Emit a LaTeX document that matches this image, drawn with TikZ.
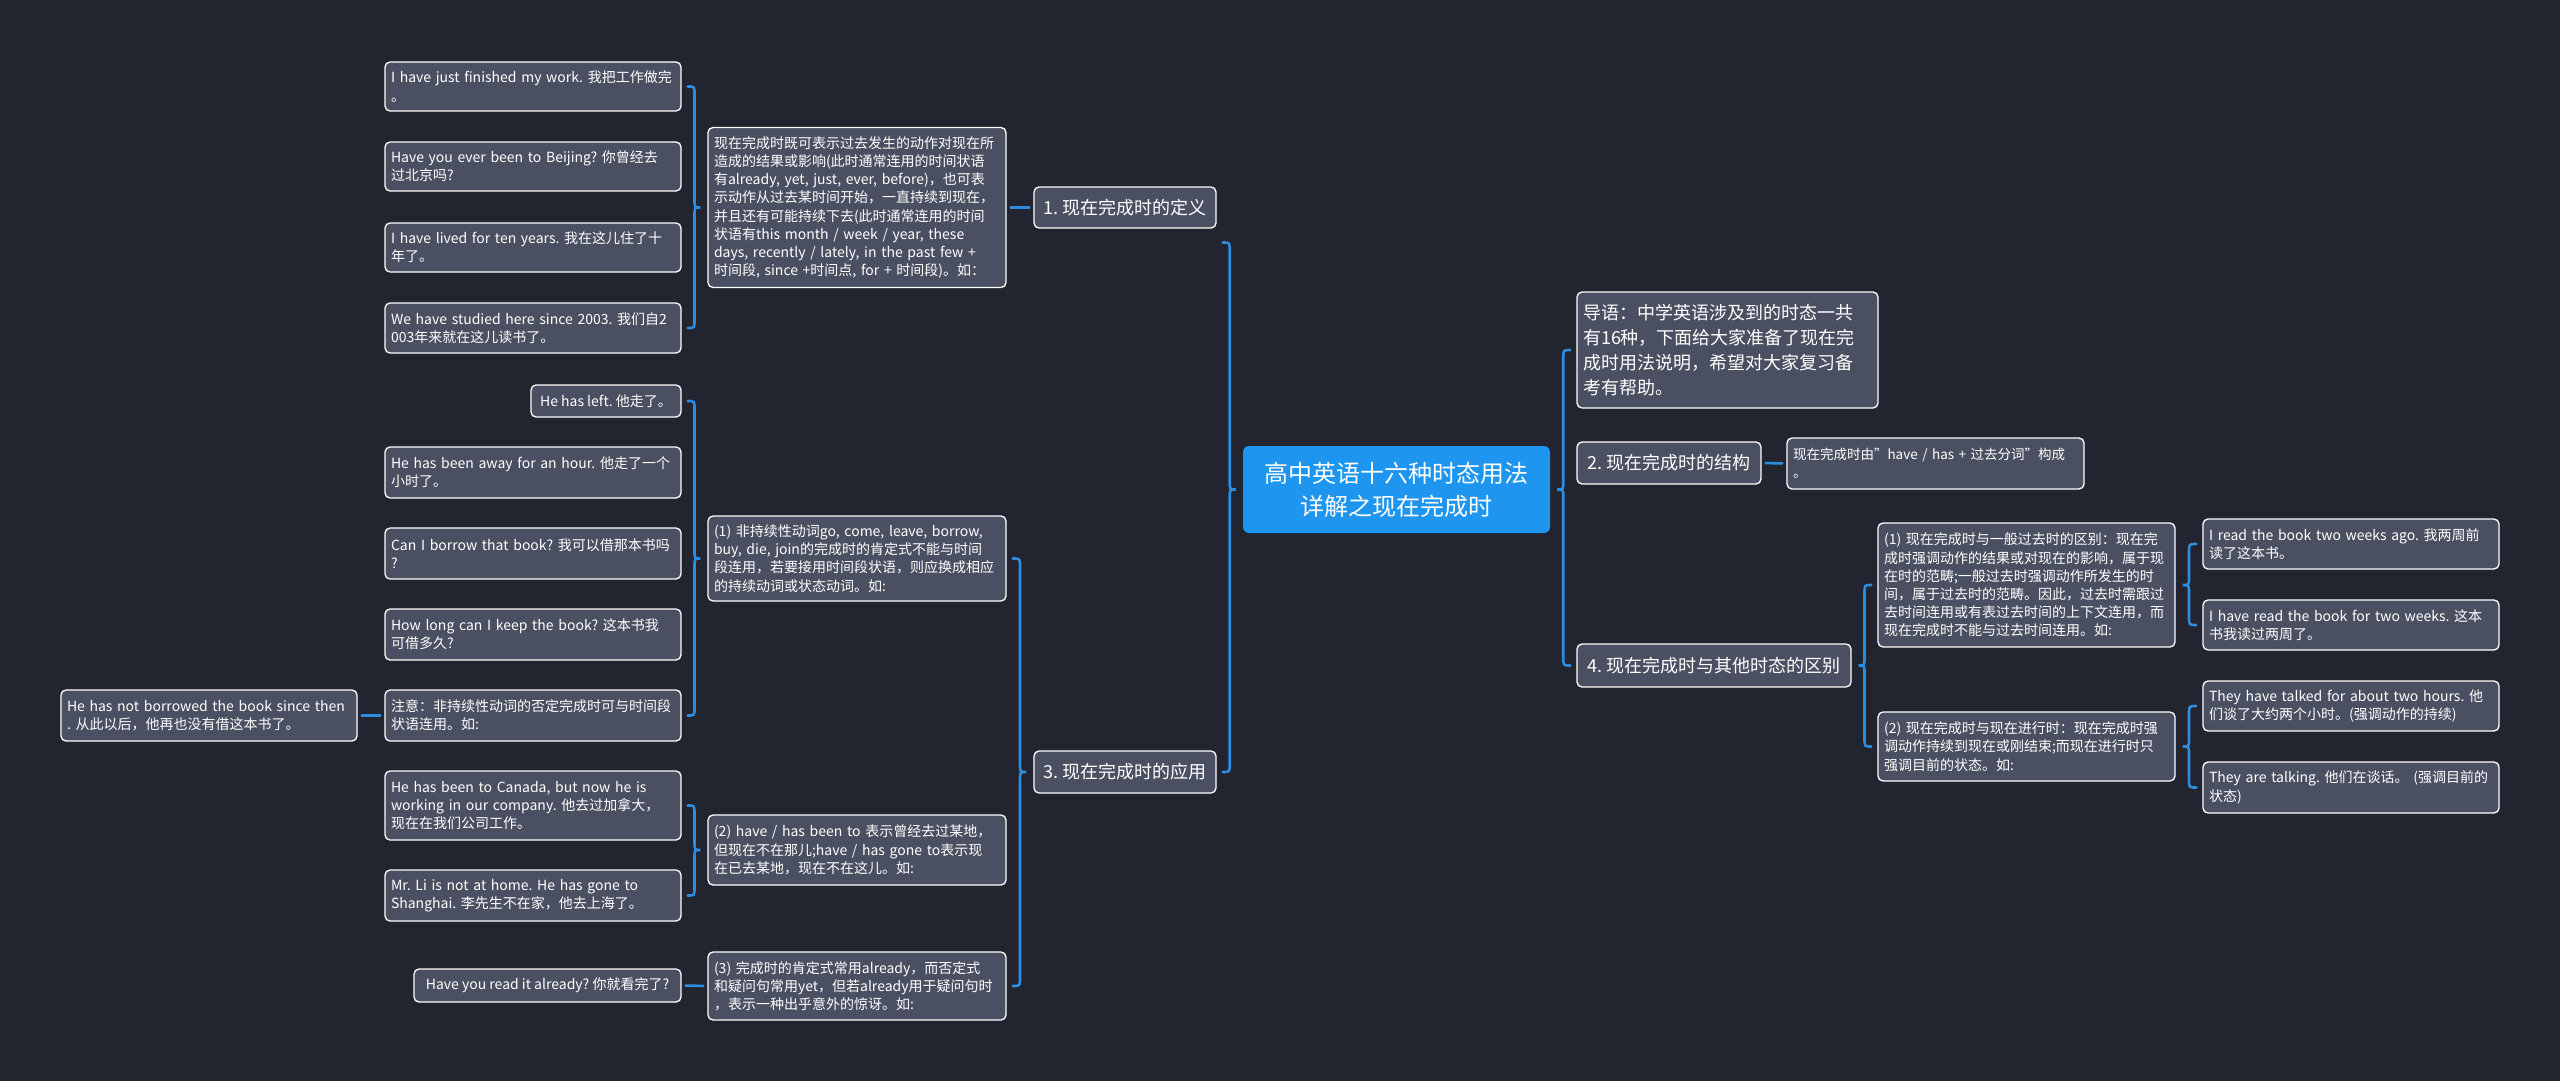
\documentclass[tikz,border=0pt]{standalone}
\usepackage{fontspec}
\setmainfont{Noto Sans CJK SC}
\usetikzlibrary{calc}
\frenchspacing
\definecolor{bg}{HTML}{22252F}
\definecolor{boxfill}{HTML}{4A5061}
\definecolor{rootfill}{HTML}{1E95EF}
\definecolor{linkblue}{HTML}{2B8CE0}
\tikzset{
  box/.style={draw=white, line width=1.3pt, fill=boxfill, rounded corners=5pt,
    text=white, inner xsep=6pt, inner ysep=4pt, align=left},
  leaf/.style={box, font=\fontsize{14}{18.2}\selectfont},
  topic/.style={box, font=\fontsize{18}{25}\selectfont},
  root/.style={fill=rootfill, rounded corners=6pt, text=white, align=center,
    minimum width=307pt, minimum height=87pt, font=\fontsize{24}{33}\selectfont},
  link/.style={draw=linkblue, line width=2.6pt, line cap=round}
}
\begin{document}
\begin{tikzpicture}[x=1pt,y=-1pt]
  \fill[bg] (0,0) rectangle (2560,1081);
  \node[root] (root) at (1396.5,489.5) {高中英语十六种时态用法\\详解之现在完成时};

  % left: 1. and 3.
  \node[topic, minimum width=182pt, minimum height=41pt] (n1) at (1125,207.5) {1. 现在完成时的定义};
  \node[topic, minimum width=182pt, minimum height=42pt] (n3) at (1125,772) {3. 现在完成时的应用};

  \node[leaf, text width=286pt, minimum height=160pt] (def) at (857,207.5) {现在完成时既可表示过去发生的动作对现在所\\造成的结果或影响(此时通常连用的时间状语\\有already, yet, just, ever, before)，也可表\\示动作从过去某时间开始，一直持续到现在，\\并且还有可能持续下去(此时通常连用的时间\\状语有this month / week / year, these\\days, recently / lately, in the past few +\\时间段, since +时间点, for + 时间段)。如：};
  \node[leaf, text width=284pt, minimum height=49pt] (ex1) at (533,86.5) {I have just finished my work. 我把工作做完\\。};
  \node[leaf, text width=284pt, minimum height=49pt] (ex2) at (533,166.5) {Have you ever been to Beijing? 你曾经去\\过北京吗?};
  \node[leaf, text width=284pt, minimum height=49pt] (ex3) at (533,247.5) {I have lived for ten years. 我在这儿住了十\\年了。};
  \node[leaf, text width=284pt, minimum height=50pt] (ex4) at (533,328) {We have studied here since 2003. 我们自2\\003年来就在这儿读书了。};

  \node[leaf, text width=286pt, minimum height=85pt] (app1) at (857,558.5) {(1) 非持续性动词go, come, leave, borrow,\\buy, die, join的完成时的肯定式不能与时间\\段连用，若要接用时间段状语，则应换成相应\\的持续动词或状态动词。如:};
  \node[leaf, text width=286pt, minimum height=70pt] (app2) at (857,850) {(2) have / has been to 表示曾经去过某地，\\但现在不在那儿;have / has gone to表示现\\在已去某地，现在不在这儿。如:};
  \node[leaf, text width=286pt, minimum height=68pt] (app3) at (857,986) {(3) 完成时的肯定式常用already，而否定式\\和疑问句常用yet，但若already用于疑问句时\\，表示一种出乎意外的惊讶。如:};

  \node[leaf, minimum width=150pt, minimum height=32pt] (a1) at (606,401) {He has left. 他走了。};
  \node[leaf, text width=284pt, minimum height=51pt] (a2) at (533,472.5) {He has been away for an hour. 他走了一个\\小时了。};
  \node[leaf, text width=284pt, minimum height=51pt] (a3) at (533,553.5) {Can I borrow that book? 我可以借那本书吗\\?};
  \node[leaf, text width=284pt, minimum height=51pt] (a4) at (533,634.5) {How long can I keep the book? 这本书我\\可借多久?};
  \node[leaf, text width=284pt, minimum height=51pt] (a5) at (533,715.5) {注意：非持续性动词的否定完成时可与时间段\\状语连用。如:};
  \node[leaf, text width=284pt, minimum height=51pt] (a5c) at (209,715.5) {He has not borrowed the book since then\\. 从此以后，他再也没有借这本书了。};

  \node[leaf, text width=284pt, minimum height=69pt] (b1) at (533,805.5) {He has been to Canada, but now he is\\working in our company. 他去过加拿大，\\现在在我们公司工作。};
  \node[leaf, text width=284pt, minimum height=51pt] (b2) at (533,895.5) {Mr. Li is not at home. He has gone to\\Shanghai. 李先生不在家，他去上海了。};
  \node[leaf, minimum width=267pt, minimum height=33pt] (c1) at (547.5,985.5) {Have you read it already? 你就看完了?};

  % right: intro, 2. and 4.
  \node[topic, text width=289pt, minimum height=116pt] (intro) at (1727.5,350) {导语：中学英语涉及到的时态一共\\有16种，下面给大家准备了现在完\\成时用法说明，希望对大家复习备\\考有帮助。};
  \node[topic, minimum width=184pt, minimum height=42pt] (n2) at (1669,463) {2. 现在完成时的结构};
  \node[box, font=\fontsize{13.5}{18}\selectfont, text width=285pt, minimum height=51pt] (n2c) at (1935.5,463.5) {现在完成时由\symbol{34}have / has + 过去分词\symbol{34}构成\\。};
  \node[topic, minimum width=274pt, minimum height=43pt] (n4) at (1714,665.5) {4. 现在完成时与其他时态的区别};

  \node[leaf, text width=285pt, minimum height=124pt] (d1) at (2026.5,585) {(1) 现在完成时与一般过去时的区别：现在完\\成时强调动作的结果或对现在的影响，属于现\\在时的范畴;一般过去时强调动作所发生的时\\间，属于过去时的范畴。因此，过去时需跟过\\去时间连用或有表过去时间的上下文连用，而\\现在完成时不能与过去时间连用。如:};
  \node[leaf, text width=285pt, minimum height=69pt] (d2) at (2026.5,746.5) {(2) 现在完成时与现在进行时：现在完成时强\\调动作持续到现在或刚结束;而现在进行时只\\强调目前的状态。如:};

  \node[leaf, text width=284pt, minimum height=50pt] (e1) at (2351,544) {I read the book two weeks ago. 我两周前\\读了这本书。};
  \node[leaf, text width=284pt, minimum height=50pt] (e2) at (2351,625) {I have read the book for two weeks. 这本\\书我读过两周了。};
  \node[leaf, text width=284pt, minimum height=50pt] (e3) at (2351,706) {They have talked for about two hours. 他\\们谈了大约两个小时。(强调动作的持续)};
  \node[leaf, text width=284pt, minimum height=51pt] (e4) at (2351,787.5) {They are talking. 他们在谈话。 (强调目前的\\状态)};

  % braces, children on the left
  \foreach \ta/\pa/\bo/\off in {ex1/def/ex4/0pt, a1/app1/a5/0pt, b1/app2/b2/0pt, app1/n3/app3/0pt, n1/root/n3/35pt}
    \draw[link] let \p1=(\ta.east), \p2=(\pa.west), \p3=(\bo.east), \n1={0.5*(\x1+\x2)} in
      (\x1+6pt,\y1-\off) .. controls (\n1,\y1-\off) .. (\n1,\y1-\off-8pt) -- (\n1,\y2+8pt)
      .. controls (\n1,\y2) .. (\x2-7pt,\y2) .. controls (\n1,\y2) .. (\n1,\y2-8pt)
      -- (\n1,\y3+8pt) .. controls (\n1,\y3) .. (\x1+6pt,\y3);
  % braces, children on the right
  \foreach \ta/\pa/\bo in {intro/root/n4, d1/n4/d2, e1/d1/e2, e3/d2/e4}
    \draw[link] let \p1=(\ta.west), \p2=(\pa.east), \p3=(\bo.west), \n1={0.5*(\x1+\x2)} in
      (\x1-6pt,\y1) .. controls (\n1,\y1) .. (\n1,\y1-8pt) -- (\n1,\y2+8pt)
      .. controls (\n1,\y2) .. (\x2+7pt,\y2) .. controls (\n1,\y2) .. (\n1,\y2-8pt)
      -- (\n1,\y3+8pt) .. controls (\n1,\y3) .. (\x1-6pt,\y3);

  % single links
  \draw[link, shorten <=4pt, shorten >=4pt] (def.east) -- (n1.west);
  \draw[link, shorten <=4pt, shorten >=4pt] (a5c.east) -- (a5.west);
  \draw[link, shorten <=4pt, shorten >=4pt] (c1.east) -- (app3.west);
  \draw[link, shorten <=4pt, shorten >=4pt] (n2.east) -- (n2c.west);
\end{tikzpicture}
\end{document}
